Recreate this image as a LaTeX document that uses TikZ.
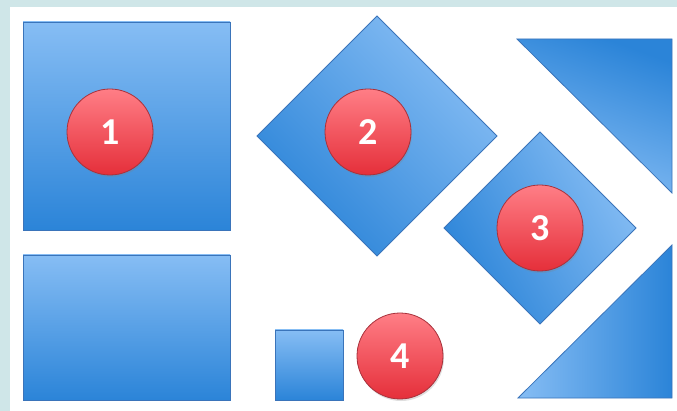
\documentclass[tikz,border=0pt]{standalone}
\usepackage{fontspec}
\setmainfont{Carlito}
\usetikzlibrary{shapes.geometric,shadows}
\definecolor{bglight}{HTML}{CFE6E8}
\definecolor{blight}{HTML}{86BDF4}
\definecolor{bdark}{HTML}{2B84D8}
\definecolor{bline}{HTML}{3A74BA}
\definecolor{rlight}{HTML}{FF7E86}
\definecolor{rdark}{HTML}{E52F3A}
\definecolor{rline}{HTML}{A8323C}
\tikzset{
  x=1pt, y=-1pt,
  bluebox/.style={draw=bline, line width=0.8pt, top color=blight, bottom color=bdark, inner sep=0pt, outer sep=0pt},
  bluediamond/.style={draw=bline, line width=0.8pt, diamond, aspect=1, inner sep=0pt, outer sep=0pt},
  badge/.style={circle, draw=rline, line width=0.8pt, top color=rlight, bottom color=rdark,
    minimum size=86pt, inner sep=0pt, text=white, font=\fontsize{38}{38}\selectfont\bfseries,
    drop shadow={shadow xshift=1pt, shadow yshift=-2pt, opacity=0.25}},
}
\begin{document}
\begin{tikzpicture}
\useasboundingbox (0,0) rectangle (677,411);
\fill[bglight] (0,0) rectangle (677,411);
\fill[white] (10,7) rectangle (677,411);
% square 1
\node[bluebox, minimum width=207pt, minimum height=208pt] (sq1) at (126.5,126) {};
% bottom-left rectangle
\node[bluebox, minimum width=207pt, minimum height=145pt] (rect) at (126.5,327.5) {};
% diamond 2
\node[bluediamond, minimum width=240pt, minimum height=240pt,
  top color=blight, bottom color=bdark, shading angle=-45] (dia2) at (377,136) {};
% diamond 3
\node[bluediamond, minimum width=192pt, minimum height=192pt,
  top color=blight, bottom color=bdark, shading angle=-60] (dia3) at (540,228) {};
% triangles
\shade[draw=bline, line width=0.8pt, top color=bdark, bottom color=blight, shading angle=-20]
  (517,39) -- (672,39) -- (672,193) -- cycle;
\shade[draw=bline, line width=0.8pt, left color=blight, right color=bdark]
  (672,245) -- (672,398) -- (518,398) -- cycle;
% small square
\node[bluebox, minimum width=68pt, minimum height=70pt] (sq4) at (309,365) {};
% badges
\node[badge] (b1) at (110,132) {1};
\node[badge] (b2) at (368,132) {2};
\node[badge] (b3) at (540,228) {3};
\node[badge] (b4) at (400,356) {4};
\end{tikzpicture}
\end{document}
